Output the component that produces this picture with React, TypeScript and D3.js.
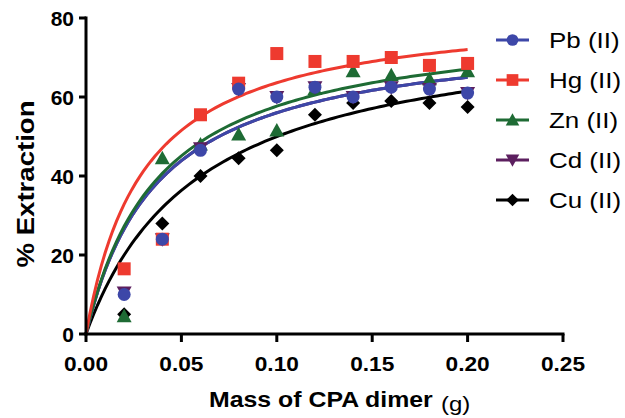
import React from "react";
import * as d3 from "d3";

const masses = [0.02, 0.04, 0.06, 0.08, 0.1, 0.12, 0.14, 0.16, 0.18, 0.2];
const seriesNames = ["Pb (II)", "Hg (II)", "Zn (II)", "Cd (II)", "Cu (II)"];
const pbValues = [10, 24, 46.5, 62, 60, 62.5, 60, 62.5, 62, 61];
const hgValues = [16.5, 24, 55.5, 63.5, 71, 69, 69, 70, 68, 68.5];
const znValues = [4.5, 44.5, 48, 50.5, 51.5, 62, 66.5, 65.5, 64.5, 66.5];
const cdValues = [10.5, 24, 47, 62, 60, 62.5, 60, 62.5, 62, 61];
const cuValues = [5, 28, 40, 44.5, 46.5, 55.5, 58.5, 59, 58.5, 57.5];
// one-site hyperbolic fit parameters: Bmax, Kd
const fitBmax = [77.4, 83, 80, 77.4, 79.9];
const fitKd = [0.0382, 0.0305, 0.0387, 0.0382, 0.0599];
const xTicks = [0, 0.05, 0.1, 0.15, 0.2, 0.25];
const yTicks = [0, 20, 40, 60, 80];

const colors = ["#3D47A8", "#EE3A2F", "#1E6B34", "#5C1F5F", "#000000"];
const shapes = ["circle", "square", "triangle", "triangleDown", "diamond"];
const values = [pbValues, hgValues, znValues, cdValues, cuValues];

function Marker({ shape, x, y, color, s = 1 }: { shape: string; x: number; y: number; color: string; s?: number }) {
  if (shape === "circle") return <circle cx={x} cy={y} r={6.5 * s} fill={color} />;
  if (shape === "square") return <rect x={x - 6.5 * s} y={y - 6.5 * s} width={13 * s} height={13 * s} fill={color} />;
  const a = 7.5 * s, b = 6 * s;
  if (shape === "triangle")
    return <path d={`M${x},${y - a}L${x + a},${y + b}L${x - a},${y + b}Z`} fill={color} />;
  if (shape === "triangleDown")
    return <path d={`M${x},${y + a}L${x + a},${y - b}L${x - a},${y - b}Z`} fill={color} />;
  const d = 7 * s;
  return <path d={`M${x},${y - d}L${x + d},${y}L${x},${y + d}L${x - d},${y}Z`} fill={color} />;
}

export default function App() {
  const W = 625, H = 418;
  const x = d3.scaleLinear().domain([0, 0.25]).range([86, 563]);
  const y = d3.scaleLinear().domain([0, 80]).range([334, 18]);
  const font = "'Liberation Sans', Arial, sans-serif";
  const curveX = d3.range(0, 0.2001, 0.002);
  const line = d3.line<number[]>().x((d) => x(d[0])).y((d) => y(d[1]));
  const drawOrder = [4, 3, 0, 2, 1];
  return (
    <svg width={W} height={H} style={{ position: "absolute", left: 0, top: 0, background: "#fff" }}>
      {drawOrder.map((i) => (
        <path
          key={"c" + i}
          d={line(curveX.map((m) => [m, (fitBmax[i] * m) / (fitKd[i] + m)])) || ""}
          fill="none"
          stroke={colors[i]}
          strokeWidth={3}
        />
      ))}
      {[4, 2, 3, 1, 0].map((i) =>
        values[i].map((v, j) => (
          <Marker key={i + "-" + j} shape={shapes[i]} x={x(masses[j])} y={y(v)} color={colors[i]} />
        ))
      )}
      <g stroke="#000" strokeWidth={3} fill="none">
        <line x1={86} x2={86} y1={y(80) - 1.5} y2={y(0) + 1.5} />
        <line x1={84.5} x2={x(0.25) + 1.5} y1={334} y2={334} />
        {yTicks.map((t) => (
          <line key={"yt" + t} x1={79} x2={86} y1={y(t)} y2={y(t)} />
        ))}
        {xTicks.map((t) => (
          <line key={"xt" + t} x1={x(t)} x2={x(t)} y1={334} y2={342} />
        ))}
      </g>
      <g fontFamily={font} fontWeight="bold" fontSize={21} fill="#000">
        {yTicks.map((t) => (
          <text key={"yl" + t} x={74} y={y(t) + 7.5} textAnchor="end">
            {t}
          </text>
        ))}
        {xTicks.map((t) => (
          <text key={"xl" + t} textAnchor="middle" transform={`translate(${x(t)},371) scale(1.08,1)`}>
            {t.toFixed(2)}
          </text>
        ))}
      </g>
      <text
        transform="translate(34,184) rotate(-90) scale(1.2,1)"
        textAnchor="middle"
        fontFamily={font}
        fontWeight="bold"
        fontSize={23}
      >
        % Extraction
      </text>
      <text transform="translate(209,407) scale(1.13,1)" fontFamily={font} fontSize={22} fontWeight="bold">
        Mass of CPA dimer
      </text>
      <text transform="translate(441,411) scale(1.2,1)" fontFamily={font} fontSize={20}>
        (g)
      </text>
      {seriesNames.map((name, i) => {
        const ly = 40 + i * 40;
        return (
          <g key={"lg" + i}>
            <line x1={496} x2={529} y1={ly} y2={ly} stroke={colors[i]} strokeWidth={3} />
            <Marker shape={shapes[i]} x={512.5} y={ly} color={colors[i]} s={0.9} />
            <text transform={`translate(549,${ly + 8}) scale(1.18,1)`} fontFamily={font} fontSize={22}>
              {name}
            </text>
          </g>
        );
      })}
    </svg>
  );
}
